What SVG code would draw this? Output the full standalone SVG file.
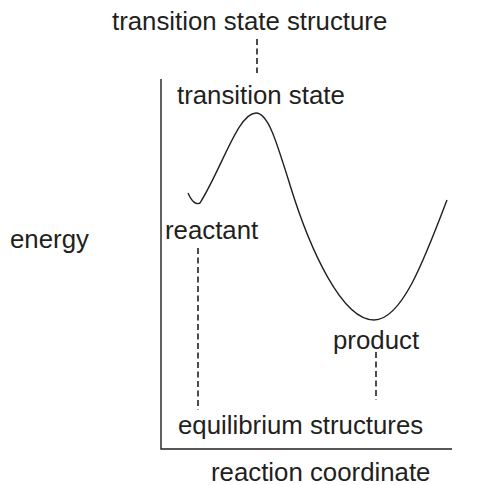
<svg xmlns="http://www.w3.org/2000/svg" width="492" height="485" viewBox="0 0 492 485">
<style>
.t{font-family:"Liberation Sans",Arial,sans-serif;font-size:25.8px;fill:#231f20}
.ax{stroke:#231f20;stroke-width:1.4;fill:none}
.cv{stroke:#231f20;stroke-width:1.4;fill:none}
.d{stroke:#231f20;stroke-width:1.6;fill:none;stroke-dasharray:6,3.5}
</style>
<rect width="492" height="485" fill="#ffffff"/>
<g id="axes">
<path class="ax" d="M161,79 V449 H452"/>
</g>
<g id="curve">
<path class="cv" d="M188,193 C192,202 196,205 200,203 C222,168 238,113 256,113 C268,113 276,140 290,185 C310,250 342,320 374,320 C402,320 425,258 447,200"/>
</g>
<g id="connectors">
<line class="d" x1="257" y1="39" x2="257" y2="73"/>
<line class="d" x1="198" y1="248" x2="198" y2="410"/>
<line class="d" x1="376" y1="352" x2="376" y2="400"/>
</g>
<g id="ts-structure"><text class="t" x="112" y="30">transition state structure</text></g>
<g id="ts"><text class="t" x="177" y="104">transition state</text></g>
<g id="reactant"><text class="t" x="165" y="239">reactant</text></g>
<g id="energy"><text class="t" x="10" y="248">energy</text></g>
<g id="product"><text class="t" x="333" y="349">product</text></g>
<g id="equilibrium"><text class="t" x="178" y="434">equilibrium structures</text></g>
<g id="xlabel"><text class="t" x="211" y="481">reaction coordinate</text></g>
</svg>
